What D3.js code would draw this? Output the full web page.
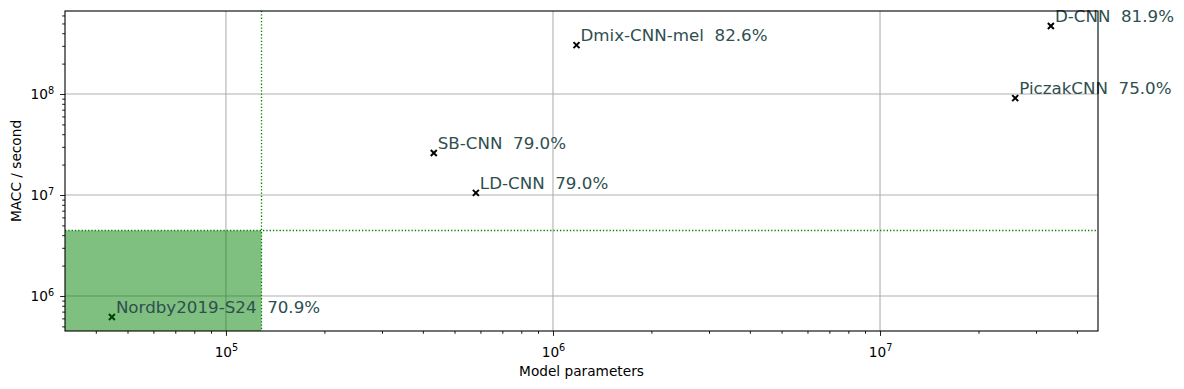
<!DOCTYPE html>
<html lang="en">
<head>
<meta charset="UTF-8">
<title>Models</title>
<script src="https://d3js.org/d3.v7.min.js"></script>
<style>
  body { margin: 0; background: #fff; }
  text { font-family: "DejaVu Sans", sans-serif; }
  .lbl { white-space: pre; }
</style>
</head>
<body>
<svg id="chart" width="1184" height="389"></svg>
<script>
// data
var models = ["Nordby2019-S24", "SB-CNN", "LD-CNN", "Dmix-CNN-mel", "PiczakCNN", "D-CNN"];
var params = [44800, 432000, 581000, 1180000, 25900000, 33300000];
var maccs = [619000, 26100000, 10500000, 305000000, 91000000, 471000000];
var accuracy = [70.9, 79.0, 79.0, 82.6, 75.0, 81.9];

// constraint box
var maxParams = 128000;
var maxMacc = 4500000;

var xTicks = [1e5, 1e6, 1e7];
var yTicks = [1e6, 1e7, 1e8];

var svg = d3.select('#chart');
// plot area edges (window.top is read-only, so own names)
var pLeft = 65, pRight = 1098, pTop = 11, pBottom = 331;

var x = d3.scaleLog().domain([32200, 4.64e7]).range([pLeft, pRight]);
var y = d3.scaleLog().domain([4.5e5, 6.64e8]).range([pBottom, pTop]);

// grid
svg.append('g').selectAll('line').data(xTicks).enter().append('line')
    .attr('x1', function (d) { return x(d); }).attr('x2', function (d) { return x(d); })
    .attr('y1', pTop).attr('y2', pBottom)
    .attr('stroke', '#b0b0b0').attr('stroke-width', 1.1);
svg.append('g').selectAll('line').data(yTicks).enter().append('line')
    .attr('y1', function (d) { return y(d); }).attr('y2', function (d) { return y(d); })
    .attr('x1', pLeft).attr('x2', pRight)
    .attr('stroke', '#b0b0b0').attr('stroke-width', 1.1);

// markers
var idx = d3.range(models.length);
svg.append('g').selectAll('path').data(idx).enter().append('path')
    .attr('transform', function (i) { return 'translate(' + x(params[i]) + ',' + y(maccs[i]) + ')'; })
    .attr('d', 'M-3,-3L3,3M-3,3L3,-3')
    .attr('stroke', '#000').attr('stroke-width', 2).attr('fill', 'none');

// feasible region
var bx = Math.round(x(maxParams)) + 0.5, by = Math.round(y(maxMacc)) + 0.5;
svg.append('rect')
    .attr('x', pLeft).attr('y', by)
    .attr('width', bx - pLeft).attr('height', pBottom - by)
    .attr('fill', '#008000').attr('fill-opacity', 0.5);
svg.append('line')
    .attr('x1', bx).attr('x2', bx).attr('y1', pTop).attr('y2', pBottom)
    .attr('stroke', '#008000').attr('stroke-width', 1.3).attr('stroke-dasharray', '1.3,2');
svg.append('line')
    .attr('x1', pLeft).attr('x2', pRight).attr('y1', by).attr('y2', by)
    .attr('stroke', '#008000').attr('stroke-width', 1.3).attr('stroke-dasharray', '1.3,2');

// labels
svg.append('g').selectAll('text').data(idx).enter().append('text')
    .attr('class', 'lbl')
    .attr('x', function (i) { return x(params[i]) + 4; })
    .attr('y', function (i) { return y(maccs[i]) - 4; })
    .attr('fill', '#2f4f4f').attr('font-size', '16.7px')
    .text(function (i) { return models[i] + '  ' + accuracy[i].toFixed(1) + '%'; });

// axes
function supLabel(sel) {
    sel.selectAll('.tick text').each(function (d) {
        var t = d3.select(this).text('');
        t.append('tspan').text('10');
        t.append('tspan').attr('dy', '-0.55em').attr('font-size', '9.7px')
            .text(Math.round(Math.log10(d)));
    });
}
function minorTicks(sc) {
    var out = [];
    var d = sc.domain();
    for (var e = Math.floor(Math.log10(d[0])); e <= Math.ceil(Math.log10(d[1])); e++) {
        for (var m = 2; m <= 9; m++) {
            var v = m * Math.pow(10, e);
            if (v >= d[0] && v <= d[1]) out.push(v);
        }
    }
    return out;
}

var xAxis = svg.append('g').attr('transform', 'translate(0,' + pBottom + ')')
    .call(d3.axisBottom(x).tickValues(xTicks).tickSize(4.9).tickPadding(11));
svg.append('g').attr('transform', 'translate(0,' + pBottom + ')')
    .call(d3.axisBottom(x).tickValues(minorTicks(x)).tickSize(2.8).tickFormat(''));
var yAxis = svg.append('g').attr('transform', 'translate(' + pLeft + ',0)')
    .call(d3.axisLeft(y).tickValues(yTicks).tickSize(4.9).tickPadding(6));
svg.append('g').attr('transform', 'translate(' + pLeft + ',0)')
    .call(d3.axisLeft(y).tickValues(minorTicks(y)).tickSize(2.8).tickFormat(''));

svg.selectAll('.domain').remove();
svg.selectAll('.tick line').attr('stroke', '#000').attr('stroke-width', 0.9);
svg.selectAll('.tick text').attr('font-family', 'DejaVu Sans').attr('font-size', '13.7px').attr('fill', '#000');
xAxis.call(supLabel);
yAxis.call(supLabel);

// frame
svg.append('rect').attr('x', pLeft).attr('y', pTop)
    .attr('width', pRight - pLeft).attr('height', pBottom - pTop)
    .attr('fill', 'none').attr('stroke', '#000').attr('stroke-width', 1.1);

svg.append('text').attr('x', (pLeft + pRight) / 2).attr('y', 376)
    .attr('text-anchor', 'middle').attr('font-size', '13.7px').text('Model parameters');
svg.append('text').attr('transform', 'translate(21,' + (pTop + pBottom) / 2 + ') rotate(-90)')
    .attr('text-anchor', 'middle').attr('font-size', '13.7px').text('MACC / second');
</script>
</body>
</html>
